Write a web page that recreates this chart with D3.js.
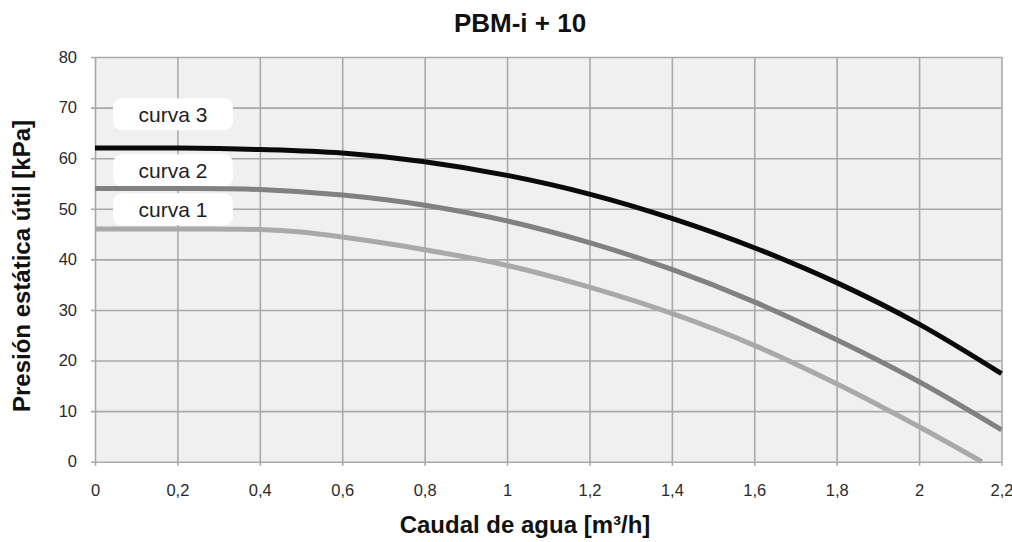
<!DOCTYPE html>
<html>
<head>
<meta charset="utf-8">
<script src="https://cdn.jsdelivr.net/npm/d3@7.9.0/dist/d3.min.js"></script>
<style>
  body { margin: 0; background: #fff; }
  svg { font-family: "Liberation Sans", Arial, sans-serif; }
</style>
</head>
<body>
<svg id="chart" width="1012" height="542"></svg>
<script>
// data
const caudal  = [0, 0.2, 0.4, 0.5, 0.6, 0.8, 1.0, 1.2, 1.4, 1.6, 1.8, 2.0, 2.152];
const curva1  = [46, 46, 45.9, 45.4, 44.4, 41.9, 38.8, 34.5, 29.3, 23.0, 15.4, 6.9, 0];
const caudal2 = [0, 0.2, 0.4, 0.6, 0.8, 1.0, 1.2, 1.4, 1.6, 1.8, 2.0, 2.2];
const curva2  = [54, 54, 53.8, 52.7, 50.7, 47.6, 43.3, 38.0, 31.6, 24.1, 15.8, 6.3];
const curva3  = [62, 62, 61.7, 61.0, 59.3, 56.6, 52.9, 48.1, 42.3, 35.4, 27.2, 17.4];
const xTicks  = [0, 0.2, 0.4, 0.6, 0.8, 1, 1.2, 1.4, 1.6, 1.8, 2, 2.2];
const yTicks  = [0, 10, 20, 30, 40, 50, 60, 70, 80];
const labels  = ["curva 3", "curva 2", "curva 1"];
const labelY  = [68.7, 57.6, 49.9];   // where the label boxes sit, in kPa

const series = [
  { name: "curva 1", x: caudal,  y: curva1, color: "#a9a9a9" },
  { name: "curva 2", x: caudal2, y: curva2, color: "#818181" },
  { name: "curva 3", x: caudal2, y: curva3, color: "#0a0a0a" }
];

const svg = d3.select("#chart");
const m = { left: 95, right: 1001.5, top: 57, bottom: 461.7 };

const x = d3.scaleLinear().domain([0, 2.2]).range([m.left, m.right]);
const y = d3.scaleLinear().domain([0, 80]).range([m.bottom, m.top]);

// plot background
svg.append("rect")
  .attr("x", m.left).attr("y", m.top)
  .attr("width", m.right - m.left).attr("height", m.bottom - m.top)
  .attr("fill", "#f0f0f0");

// grid via axes
const fmt = d => String(d).replace(".", ",");

const gx = svg.append("g")
  .attr("transform", `translate(0,${m.bottom})`)
  .call(d3.axisBottom(x).tickValues(xTicks).tickFormat(fmt)
    .tickSizeInner(-(m.bottom - m.top)).tickSizeOuter(0).tickPadding(23));
gx.select(".domain").remove();
gx.selectAll(".tick line").attr("stroke", "#a9a9a9").attr("stroke-width", 1.6)
  .attr("y2", -(m.bottom - m.top)).attr("y1", 4);

const gy = svg.append("g")
  .attr("transform", `translate(${m.left},0)`)
  .call(d3.axisLeft(y).tickValues(yTicks)
    .tickSizeInner(-(m.right - m.left)).tickSizeOuter(0).tickPadding(18));
gy.select(".domain").remove();
gy.selectAll(".tick line").attr("stroke", "#a9a9a9").attr("stroke-width", 1.6)
  .attr("x1", -4);

svg.selectAll(".tick text")
  .attr("fill", "#2a2a2a").style("font-size", "16.5px");

// label boxes (under the curves)
const lab = svg.append("g").selectAll("g")
  .data(labels)
  .join("g")
    .attr("transform", (d, i) => `translate(173,${y(labelY[i])})`);
lab.append("rect")
  .attr("x", -60).attr("y", -16).attr("width", 120).attr("height", 32)
  .attr("rx", 9).attr("fill", "#fff");
lab.append("text")
  .attr("text-anchor", "middle").attr("dy", "0.36em")
  .style("font-size", "21px").attr("fill", "#1e1e1e")
  .text(d => d);

// curves
const line = d3.line().curve(d3.curveCatmullRom.alpha(0.5));
svg.append("g").selectAll("path")
  .data(series)
  .join("path")
    .attr("d", s => line(s.x.map((v, i) => [x(v), y(s.y[i])])))
    .attr("fill", "none")
    .attr("stroke", s => s.color)
    .attr("stroke-width", 5)
    .attr("stroke-linecap", "butt");

// titles
svg.append("text")
  .attr("x", 520).attr("y", 32).attr("text-anchor", "middle")
  .style("font-size", "26px").style("font-weight", "bold").attr("fill", "#111")
  .text("PBM-i + 10");

svg.append("text")
  .attr("x", 525).attr("y", 533).attr("text-anchor", "middle")
  .style("font-size", "24px").style("font-weight", "bold").attr("fill", "#111")
  .text("Caudal de agua [m³/h]");

svg.append("text")
  .attr("transform", `translate(30,266) rotate(-90)`)
  .attr("text-anchor", "middle")
  .style("font-size", "24px").style("font-weight", "bold").attr("fill", "#111")
  .text("Presión estática útil [kPa]");
</script>
</body>
</html>
